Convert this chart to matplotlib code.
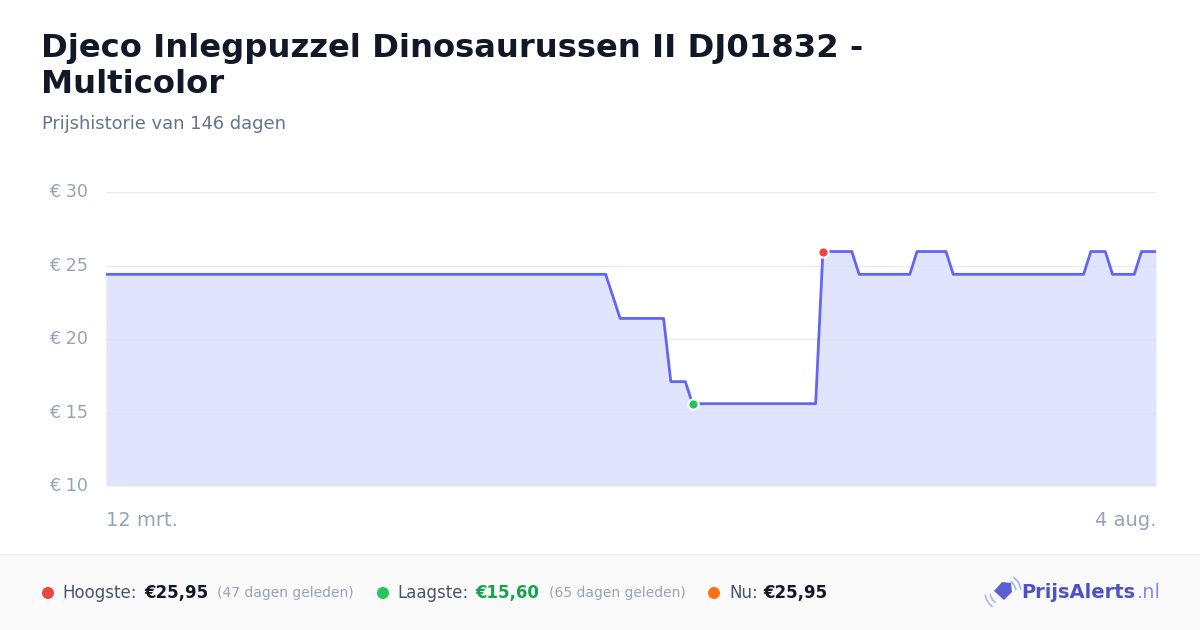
import numpy as np
import matplotlib
matplotlib.use("Agg")
import matplotlib.pyplot as plt
from matplotlib.patches import Rectangle, Polygon, Ellipse, Arc

plt.rcParams['font.family'] = ['DejaVu Sans']

# price history: day offset since 12 mrt. and price at that day (change points)
days = [0, 69, 71, 77, 78, 80, 81, 98, 99, 103, 104, 111, 112, 116, 117,
        135, 136, 138, 139, 142, 143, 145]
prices = [24.40, 24.40, 21.40, 21.40, 17.10, 17.10, 15.60, 15.60, 25.95, 25.95, 24.40,
          24.40, 25.95, 25.95, 24.40, 24.40, 25.95, 25.95, 24.40, 24.40, 25.95, 25.95]
y_ticks = [10, 15, 20, 25, 30]
x_labels = ["12 mrt.", "4 aug."]
high_day, high_price = 99, 25.95
low_day, low_price = 81, 15.60

title = "Djeco Inlegpuzzel Dinosaurussen II DJ01832 -\nMulticolor"
subtitle = "Prijshistorie van 146 dagen"

W, H = 1200, 630
fig = plt.figure(figsize=(12, 6.3), dpi=100)
fig.patch.set_facecolor("white")

def px(x, y):
    return x / W, 1 - y / H

# title
fig.text(*px(41, 33), title, fontsize=23.2, fontweight="bold", color="#111827",
         va="top", ha="left", linespacing=1.2)
fig.text(*px(42, 124), subtitle, fontsize=12.9, color="#64748b", va="center", ha="left")

# chart
ax = fig.add_axes([106 / W, 1 - 486 / H, 1050 / W, 294 / H])
ax.set_xlim(0, 145)
ax.set_ylim(10, 30)
ax.fill_between(days, prices, 10, color="#e0e4fd", zorder=1, linewidth=0)
for t in y_ticks[1:]:
    ax.axhline(t, color="#dcdfe8", lw=1, zorder=2, alpha=0.6)
ax.axhline(10, color="#dfe3ea", lw=1.5, zorder=2)
ax.plot(days, prices, color="#6366f1", lw=2, zorder=3, solid_joinstyle="round")
ax.scatter([high_day], [high_price], s=55, color="#ef4444", edgecolor="white", lw=1.5, zorder=4)
ax.scatter([low_day], [low_price], s=55, color="#22c55e", edgecolor="white", lw=1.5, zorder=4)
for s in ax.spines.values():
    s.set_visible(False)
ax.set_xticks([])
ax.set_yticks([])
ax.patch.set_alpha(0)

for t in y_ticks:
    y = 486 - (t - 10) * 294 / 20
    fig.text(*px(88, y), "€ %d" % t, fontsize=12.6, color="#94a3b8", ha="right", va="center")
fig.text(*px(106, 521), x_labels[0], fontsize=14, color="#94a3b8", ha="left", va="center")
fig.text(*px(1156, 521), x_labels[1], fontsize=14, color="#94a3b8", ha="right", va="center")

# footer
fig.patches.append(Rectangle((0, 0), 1, 1 - 554 / H, transform=fig.transFigure,
                             facecolor="#fafafa", edgecolor="none", zorder=0))
fig.add_artist(plt.Line2D([0, 1], [1 - 554 / H] * 2, color="#eeeeee", lw=1,
                          transform=fig.transFigure))

fy = 593
def dot(x, c):
    fig.add_artist(Ellipse(px(x, fy), width=12 / W, height=12 / H, transform=fig.transFigure,
                           facecolor=c, edgecolor="none"))

dot(48, "#ef4444")
fig.text(*px(62, fy), "Hoogste:", fontsize=12, color="#475569", va="center")
fig.text(*px(144, fy), "€25,95", fontsize=12, color="#111827", fontweight="bold", va="center")
fig.text(*px(217, fy), "(47 dagen geleden)", fontsize=10, color="#94a3b8", va="center")
dot(383, "#22c55e")
fig.text(*px(397, fy), "Laagste:", fontsize=12, color="#475569", va="center")
fig.text(*px(475, fy), "€15,60", fontsize=12, color="#16a34a", fontweight="bold", va="center")
fig.text(*px(549, fy), "(65 dagen geleden)", fontsize=10, color="#94a3b8", va="center")
dot(714, "#f97316")
fig.text(*px(729, fy), "Nu:", fontsize=12, color="#475569", va="center")
fig.text(*px(763, fy), "€25,95", fontsize=12, color="#111827", fontweight="bold", va="center")

# logo
tag = [px(994, 591), px(1002, 582), px(1011, 583), px(1012, 592), px(1004, 600)]
fig.add_artist(Polygon(tag, closed=True, transform=fig.transFigure,
                       facecolor="#5b5fd6", edgecolor="none"))
for r in (13, 18):
    fig.add_artist(Arc(px(1003, 592), width=2 * r / W, height=2 * r / H, theta1=195, theta2=250,
                       transform=fig.transFigure, color="#a5b4fc", lw=1.2))
    fig.add_artist(Arc(px(1003, 592), width=2 * r / W, height=2 * r / H, theta1=15, theta2=70,
                       transform=fig.transFigure, color="#a5b4fc", lw=1.2))
fig.text(*px(1021, fy), "PrijsAlerts", fontsize=14, fontweight="bold", color="#4f52c4", va="center")
fig.text(*px(1137, fy), ".nl", fontsize=14, color="#818cf8", va="center")

fig.savefig("out.png", dpi=100)
